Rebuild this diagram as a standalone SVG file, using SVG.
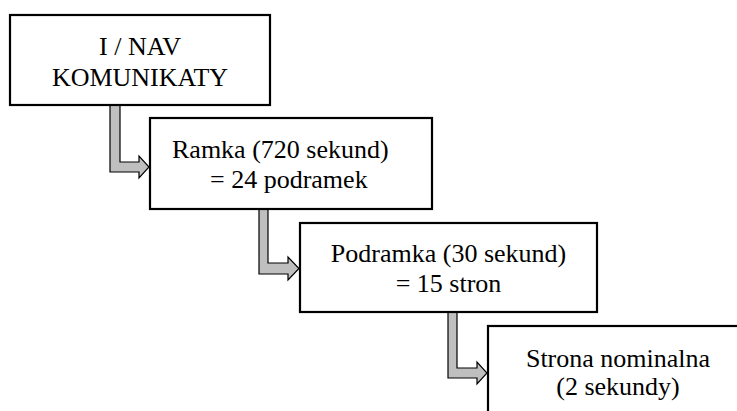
<svg xmlns="http://www.w3.org/2000/svg" width="737" height="411" viewBox="0 0 737 411">
<style>
.box{fill:#ffffff;stroke:#000000;stroke-width:2.2}
.arr{fill:#bfbfbf;stroke:#000000;stroke-width:1.2;stroke-linejoin:miter}
text{font-family:'Liberation Serif','Times New Roman',Times,serif;font-size:26px;fill:#000000}
</style>
<rect width="737" height="411" fill="#ffffff"/>
<g id="connectors">
<polygon class="arr" points="110,105 120,105 120,162 139,162 139,156 149,167 139,178 139,172 110,172"/>
<polygon class="arr" points="259,209 268,209 268,263 288,263 288,257 299,268.5 288,280 288,274 259,274"/>
<polygon class="arr" points="448,312 457,312 457,368 477,368 477,362 487,373 477,384 477,378 448,378"/>
</g>
<g id="node1" font-family="Liberation Serif, serif">
<rect class="box" x="10" y="15" width="260" height="90"/>
<text x="140" y="55" text-anchor="middle">I / NAV</text>
<text x="140" y="86" text-anchor="middle">KOMUNIKATY</text>
</g>
<g id="node2">
<rect class="box" x="150" y="118" width="282" height="91"/>
<text x="172" y="158">Ramka (720 sekund)</text>
<text x="210" y="188">= 24 podramek</text>
</g>
<g id="node3">
<rect class="box" x="300" y="223" width="297" height="89"/>
<text x="448.5" y="262" text-anchor="middle">Podramka (30 sekund)</text>
<text x="448.5" y="292" text-anchor="middle">= 15 stron</text>
</g>
<g id="node4">
<rect class="box" x="488" y="326" width="270" height="100"/>
<text x="618" y="367" text-anchor="middle">Strona nominalna</text>
<text x="618" y="395" text-anchor="middle">(2 sekundy)</text>
</g>
</svg>
